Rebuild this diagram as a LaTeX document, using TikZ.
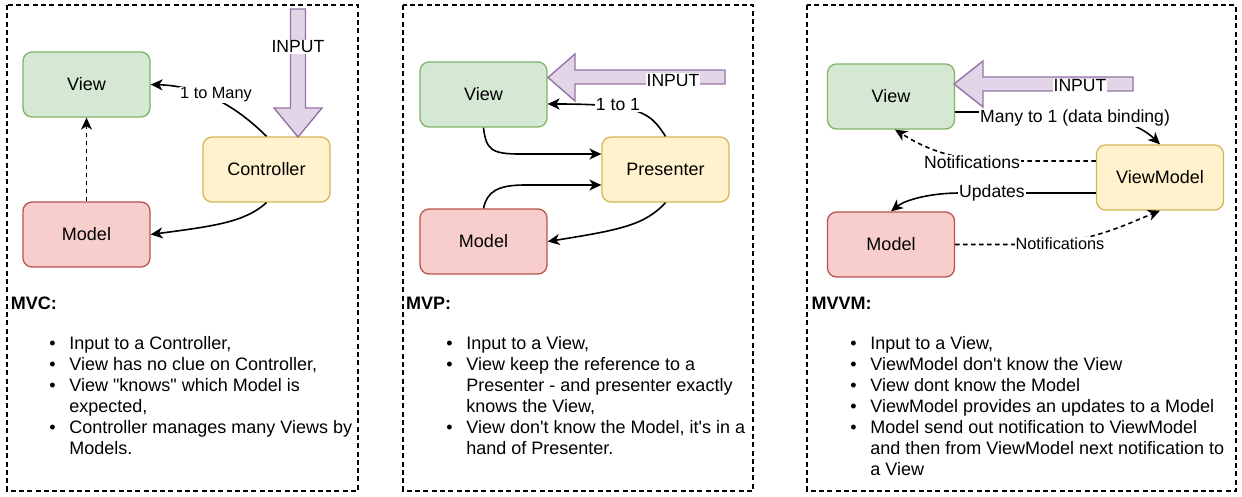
\documentclass[tikz,border=0pt]{standalone}
\usepackage{fontspec}
\setmainfont{Liberation Sans}[Ligatures=TeXOff]
\usetikzlibrary{arrows.meta}
\definecolor{gfill}{HTML}{D5E8D4}\definecolor{gline}{HTML}{82B366}
\definecolor{yfill}{HTML}{FFF2CC}\definecolor{yline}{HTML}{D6B656}
\definecolor{rfill}{HTML}{F8CECC}\definecolor{rline}{HTML}{B85450}
\definecolor{pfill}{HTML}{E1D5E7}\definecolor{pline}{HTML}{9673A6}
\newcommand\mybul{\makebox[20pt][l]{\textbullet}}
\tikzset{
  box/.style={rounded corners=9pt, minimum width=127pt, minimum height=65pt, inner sep=0pt, line width=1.3pt, font=\fontsize{18}{21}\selectfont},
  gbox/.style={box, fill=gfill, draw=gline},
  ybox/.style={box, fill=yfill, draw=yline},
  rbox/.style={box, fill=rfill, draw=rline},
  conn/.style={line width=1.6pt, -{Stealth[length=12pt,width=11pt,inset=3.5pt]}},
  dconn/.style={conn, dash pattern=on 4.5pt off 3.5pt},
  lbl/.style={fill=white, inner sep=0.8pt, font=\fontsize{17.6}{21}\selectfont},
  smalllbl/.style={lbl, font=\fontsize{16.3}{20}\selectfont},
  panel/.style={draw, dash pattern=on 5pt off 3.3pt, line width=1.4pt},
  bigarrow/.style={draw=pline, fill=pfill, line width=1.4pt},
  titletxt/.style={anchor=base west, inner sep=0pt, font=\fontsize{18}{21}\selectfont\bfseries},
  listtxt/.style={anchor=base west, inner sep=0pt, font=\fontsize{18}{21}\selectfont},
}
\begin{document}
\begin{tikzpicture}[x=1pt,y=-1pt]
\useasboundingbox (0,0) rectangle (1242,497);
\fill[white] (0,0) rectangle (1242,497);
% panels
\draw[panel] (7,5) rectangle (358,491);
\draw[panel] (403,5) rectangle (753,491);
\draw[panel] (807,5) rectangle (1236,491);

% ---------- MVC ----------
\node[gbox] (V1) at (86.5,84.5) {View};
\node[ybox] (C1) at (266.5,169.5) {Controller};
\node[rbox] (M1) at (86.5,234.5) {Model};
\draw[bigarrow] (290.5,9) -- (305.5,9) -- (305.5,108) -- (322,108) -- (298,137) -- (274,108) -- (290.5,108) -- cycle;
\node[lbl] (I1) at (298,47) {INPUT};
\draw[conn] (C1.north) .. controls (235,105) and (200,86) .. (V1.east);
\node[smalllbl] (L1) at (216,95) {1 to Many};
\draw[conn] (C1.south) .. controls (245,222) and (215,226) .. (M1.east);
\draw[dconn] (M1.north) -- (V1.south);

\node[titletxt] (T1) at (10.7,309.5) {MVC:};
\node[listtxt] (B1) at (49.2,349.5) {\begin{tabular}[t]{@{}l@{}l@{}}
\mybul & Input to a Controller,\\
\mybul & View has no clue on Controller,\\
\mybul & View "knows" which Model is\\
       & expected,\\
\mybul & Controller manages many Views by\\
       & Models.
\end{tabular}};

% ---------- MVP ----------
\node[gbox] (V2) at (483.5,94.5) {View};
\node[ybox] (P2) at (665.5,169.5) {Presenter};
\node[rbox] (M2) at (483.5,241.5) {Model};
\draw[bigarrow] (725,70) -- (575,70) -- (575,54) -- (548,77.5) -- (575,101) -- (575,84) -- (725,84) -- cycle;
\node[lbl] (I2) at (673,80.3) {INPUT};
\draw[conn] (P2.north) .. controls (650,112) and (640,104) .. ([yshift=-9.5pt]V2.east);
\node[lbl] (L2) at (618,105) {1 to 1};
\draw[conn] (V2.south) .. controls (486,150) and (492,154) .. (520,154) -- ([yshift=15.5pt]P2.west);
\draw[conn] (M2.north) .. controls (487,192) and (497,185) .. (525,185) -- ([yshift=-15.5pt]P2.west);
\draw[conn] (P2.south) .. controls (645,225) and (620,230) .. (M2.east);

\node[titletxt] (T2) at (406,309.5) {MVP:};
\node[listtxt] (B2) at (446.2,349.5) {\begin{tabular}[t]{@{}l@{}l@{}}
\mybul & Input to a View,\\
\mybul & View keep the reference to a\\
       & Presenter - and presenter exactly\\
       & knows the View,\\
\mybul & View don't know the Model, it's in a\\
       & hand of Presenter.
\end{tabular}};

% ---------- MVVM ----------
\node[gbox] (V3) at (891,96.5) {View};
\node[ybox] (VM3) at (1160,177.5) {ViewModel};
\node[rbox] (M3) at (891,244.5) {Model};
\draw[bigarrow] (1133,77) -- (983,77) -- (983,61) -- (954,84) -- (983,107) -- (983,91) -- (1133,91) -- cycle;
\node[lbl] (I3) at (1080,86) {INPUT};
\draw[conn] ([yshift=-15.5pt]V3.east) -- (1040,112) .. controls (1110,112) and (1140,125) .. (VM3.north);
\node[lbl] (L3) at (1075,118) {Many to 1 (data binding)};
\draw[dconn] ([yshift=16.5pt]VM3.west) -- (1000,161) .. controls (945,161) and (915,142) .. ([xshift=4pt]V3.south);
\node[lbl] (L4) at (972,162) {Notifications};
\draw[conn] ([yshift=-15.5pt]VM3.west) -- (960,193) .. controls (930,193) and (905,200) .. (M3.north);
\node[lbl] (L5) at (992,193) {Updates};
\draw[dconn] (M3.east) -- (1030,244.5) .. controls (1085,244.5) and (1125,225) .. (VM3.south);
\node[smalllbl] (L6) at (1060,243.3) {Notifications};

\node[titletxt] (T3) at (811.4,309.5) {MVVM:};
\node[listtxt] (B3) at (850.2,349.5) {\begin{tabular}[t]{@{}l@{}l@{}}
\mybul & Input to a View,\\
\mybul & ViewModel don't know the View\\
\mybul & View dont know the Model\\
\mybul & ViewModel provides an updates to a Model\\
\mybul & Model send out notification to ViewModel\\
       & and then from ViewModel next notification to\\
       & a View
\end{tabular}};
\end{tikzpicture}
\end{document}
